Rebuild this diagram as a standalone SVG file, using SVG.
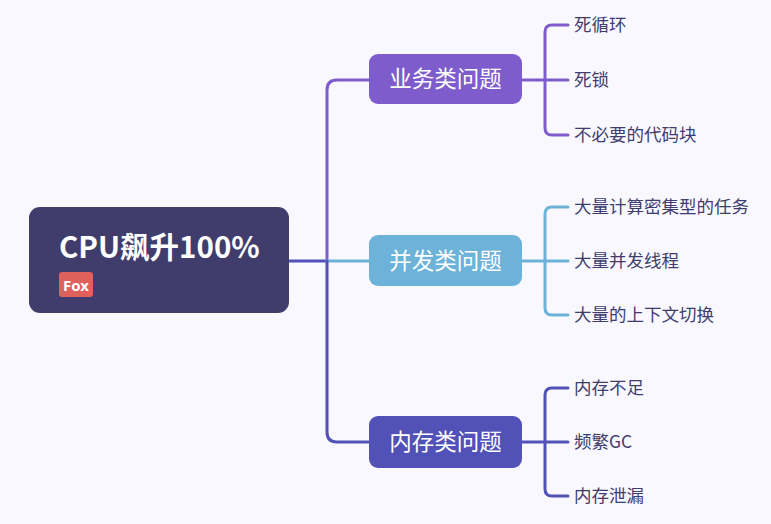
<svg xmlns="http://www.w3.org/2000/svg" width="771" height="524" viewBox="0 0 771 524">
<style>
.bg{fill:#f8f8fe}
.line{fill:none;stroke-width:3;stroke-linecap:round;stroke-linejoin:round}
.p{stroke:#7e5ccc}
.b{stroke:#6cb2d9}
.d{stroke:#5251b8}
.node-text{font-family:"Noto Sans CJK SC","Noto Sans",sans-serif;fill:#ffffff;font-size:22.5px;text-anchor:middle}
.leaf{font-family:"Noto Sans CJK SC","Noto Sans",sans-serif;fill:#3f3d6e;font-size:17.5px}
</style>
<rect class="bg" x="0" y="0" width="771" height="524"/>
<g id="connectors">
  <path class="line d" d="M289 261 H327"/>
  <path class="line p" d="M327 261 V90 Q327 80 337 80 H369"/>
  <path class="line b" d="M327 261 H369"/>
  <path class="line d" d="M327 261 V432 Q327 442 337 442 H369"/>
  <path class="line p" d="M522 80 H568 M545 80 V32 Q545 25 552 25 H568 M545 80 V128 Q545 135 552 135 H568"/>
  <path class="line b" d="M522 261 H568 M545 261 V214 Q545 207 552 207 H568 M545 261 V308 Q545 315 552 315 H568"/>
  <path class="line d" d="M522 442 H568 M545 442 V395 Q545 388 552 388 H568 M545 442 V489 Q545 496 552 496 H568"/>
</g>
<g id="root">
  <rect x="29" y="207" width="260" height="106" rx="11" fill="#403d6d"/>
  <text x="59" y="258" font-family="'Noto Sans CJK SC','Noto Sans',sans-serif" font-size="29.5" font-weight="bold" fill="#ffffff">CPU飙升100%</text>
  <rect x="59" y="272" width="34" height="25" rx="3" fill="#e0605c"/>
  <text x="76" y="290.5" font-family="'Noto Sans','Noto Sans CJK SC',sans-serif" font-size="15" font-weight="bold" fill="#ffffff" text-anchor="middle">Fox</text>
</g>
<g id="n-business">
  <rect x="369" y="54" width="153" height="50" rx="9" fill="#7e5ccc"/>
  <text class="node-text" x="445.5" y="87">业务类问题</text>
</g>
<g id="n-concurrency">
  <rect x="369" y="235" width="153" height="51" rx="9" fill="#6cb2d9"/>
  <text class="node-text" x="445.5" y="268.5">并发类问题</text>
</g>
<g id="n-memory">
  <rect x="369" y="416" width="153" height="52" rx="9" fill="#5251b8"/>
  <text class="node-text" x="445.5" y="450">内存类问题</text>
</g>
<g id="leaves-business">
  <text class="leaf" x="574" y="31">死循环</text>
  <text class="leaf" x="574" y="86">死锁</text>
  <text class="leaf" x="574" y="141">不必要的代码块</text>
</g>
<g id="leaves-concurrency">
  <text class="leaf" x="574" y="213">大量计算密集型的任务</text>
  <text class="leaf" x="574" y="267">大量并发线程</text>
  <text class="leaf" x="574" y="321">大量的上下文切换</text>
</g>
<g id="leaves-memory">
  <text class="leaf" x="574" y="394">内存不足</text>
  <text class="leaf" x="574" y="448">频繁GC</text>
  <text class="leaf" x="574" y="502">内存泄漏</text>
</g>
</svg>
